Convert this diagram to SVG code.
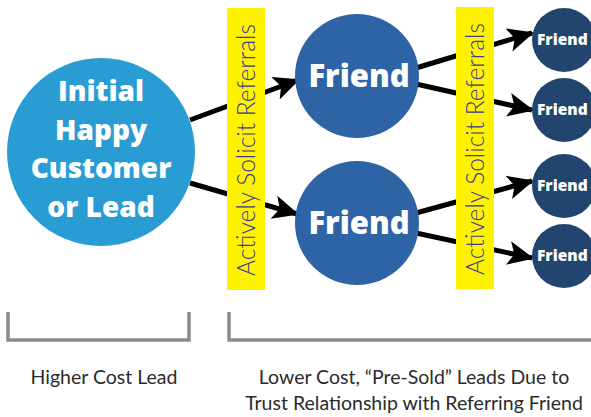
<svg xmlns="http://www.w3.org/2000/svg" width="591" height="417" viewBox="0 0 591 417">
  <style>
    .band { fill: #fff200; }
    .band-label { font-family: "Lato", "Open Sans", "DejaVu Sans", sans-serif; font-weight: 300; font-size: 24.5px; fill: #3b3a8c; text-anchor: middle; }
    .bold { font-family: "Open Sans", "Lato", "DejaVu Sans", sans-serif; font-weight: 800; fill: #ffffff; text-anchor: middle; }
    .small { font-family: "Open Sans", "Lato", "DejaVu Sans", sans-serif; font-weight: 800; fill: #ffffff; font-size: 15.5px; }
    .edge { stroke: #000; stroke-width: 5; fill: none; }
    .bracket { stroke: #8a8a8a; stroke-width: 3.5; fill: none; }
    .caption { font-family: "Lato", "Open Sans", "DejaVu Sans", sans-serif; font-size: 19.5px; fill: #2b2b2b; text-anchor: middle; }
  </style>
  <defs>
    <marker id="arrow" markerUnits="userSpaceOnUse" markerWidth="26" markerHeight="26" viewBox="0 0 26 26" refX="24" refY="13" orient="auto">
      <path d="M0,1 L26,13 L0,25 L6,13 z" fill="#000"/>
    </marker>
  </defs>

  <rect width="591" height="417" fill="#fff"/>

  <!-- connectors (drawn under the yellow bands) -->
  <g id="connectors">
    <line class="edge" x1="190" y1="120" x2="298" y2="80" marker-end="url(#arrow)"/>
    <line class="edge" x1="190" y1="183" x2="297" y2="214" marker-end="url(#arrow)"/>
    <line class="edge" x1="416" y1="68" x2="532" y2="33" marker-end="url(#arrow)"/>
    <line class="edge" x1="416" y1="84" x2="532" y2="110" marker-end="url(#arrow)"/>
    <line class="edge" x1="416" y1="213" x2="532" y2="181" marker-end="url(#arrow)"/>
    <line class="edge" x1="416" y1="233" x2="532" y2="258" marker-end="url(#arrow)"/>
  </g>

  <!-- yellow referral bands -->
  <g id="band1">
    <rect class="band" x="227" y="8" width="38" height="282"/>
    <text class="band-label" transform="translate(255 150) rotate(-90)">Actively Solicit Referrals</text>
  </g>
  <g id="band2">
    <rect class="band" x="456" y="7" width="38" height="282"/>
    <text class="band-label" transform="translate(484 149) rotate(-90)">Actively Solicit Referrals</text>
  </g>

  <!-- initial customer -->
  <g id="customer">
    <circle cx="101" cy="152" r="94" fill="#299cd4"/>
    <text class="bold" font-size="28" x="101" y="101">Initial</text>
    <text class="bold" font-size="28" x="101" y="140">Happy</text>
    <text class="bold" font-size="28" x="101" y="178">Customer</text>
    <text class="bold" font-size="28" x="101" y="217">or Lead</text>
  </g>

  <!-- first-level friends -->
  <g id="friend1">
    <circle cx="357" cy="76" r="62" fill="#2e63a6"/>
    <text class="bold" font-size="31" x="359" y="87">Friend</text>
  </g>
  <g id="friend2">
    <circle cx="357" cy="223" r="62" fill="#2e63a6"/>
    <text class="bold" font-size="31" x="359" y="234">Friend</text>
  </g>

  <!-- second-level friends -->
  <g id="friend3">
    <circle cx="564" cy="40" r="32" fill="#22456f"/>
    <text class="small" x="537" y="45">Friend</text>
  </g>
  <g id="friend4">
    <circle cx="564" cy="110" r="32" fill="#22456f"/>
    <text class="small" x="537" y="115">Friend</text>
  </g>
  <g id="friend5">
    <circle cx="564" cy="186" r="32" fill="#22456f"/>
    <text class="small" x="537" y="191">Friend</text>
  </g>
  <g id="friend6">
    <circle cx="564" cy="256" r="32" fill="#22456f"/>
    <text class="small" x="537" y="261">Friend</text>
  </g>

  <!-- cost brackets -->
  <g id="brackets">
    <path class="bracket" d="M8,312 V340 H189 V312"/>
    <path class="bracket" d="M229,312 V340 H595"/>
  </g>

  <g id="captions">
    <text class="caption" x="104" y="384">Higher Cost Lead</text>
    <text class="caption" x="414" y="384">Lower Cost, “Pre-Sold” Leads Due to</text>
    <text class="caption" x="414" y="410">Trust Relationship with Referring Friend</text>
  </g>
</svg>
